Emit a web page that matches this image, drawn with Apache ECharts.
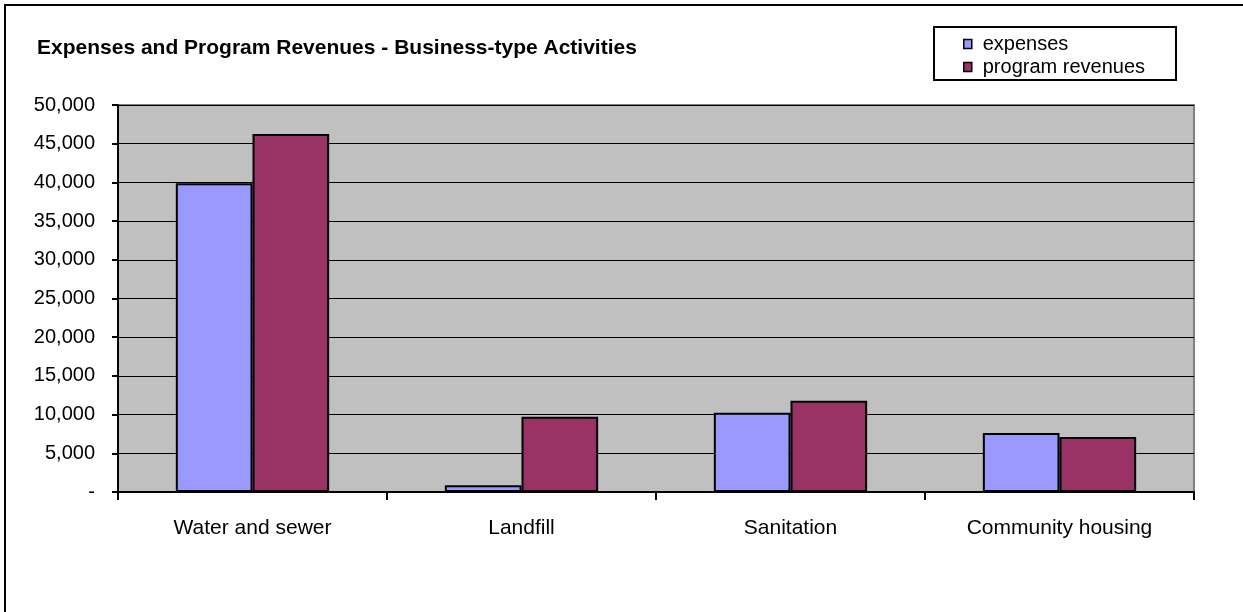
<!DOCTYPE html>
<html>
<head>
<meta charset="utf-8">
<script src="https://cdn.jsdelivr.net/npm/echarts@6/dist/echarts.min.js"></script>
<style>
html,body{margin:0;padding:0;background:#fff;}
#chart{width:1243px;height:612px;}
</style>
</head>
<body>
<div id="chart"></div>
<script>
var categories = ['Water and sewer', 'Landfill', 'Sanitation', 'Community housing'];
var expenses = [39900, 880, 10250, 7630];
var programRevenues = [46250, 9720, 11800, 7100];
var yTicks = [0, 5000, 10000, 15000, 20000, 25000, 30000, 35000, 40000, 45000, 50000];

var chart = echarts.init(document.getElementById('chart'), null, {renderer: 'canvas'});
var font = 'Arial, "Liberation Sans", sans-serif';
chart.setOption({
  animation: false,
  backgroundColor: '#ffffff',
  title: {
    text: 'Expenses and Program Revenues - Business-type Activities',
    left: 37, top: 38,
    padding: 0,
    textStyle: {fontFamily: font, fontWeight: 'bold', fontSize: 21, color: '#000'}
  },
  legend: {
    orient: 'vertical',
    left: 963, top: 34,
    padding: 0,
    itemWidth: 8, itemHeight: 9,
    itemGap: 3,
    icon: 'rect',
    itemStyle: {borderColor: '#000', borderWidth: 1.5},
    textStyle: {fontFamily: font, fontSize: 20, color: '#000', padding: [0,0,0,6]},
    data: ['expenses', 'program revenues']
  },
  graphic: [
    {type: 'rect', shape: {x: 5, y: 5, width: 1260, height: 640}, style: {fill: 'none', stroke: '#000', lineWidth: 2}, z: 0},
    {type: 'rect', shape: {x: 934, y: 27, width: 242, height: 53}, style: {fill: 'none', stroke: '#000', lineWidth: 2}, z: 0}
  ],
  grid: {
    left: 118, top: 105, width: 1076, height: 387,
    show: true, backgroundColor: '#C0C0C0', borderColor: '#808080', borderWidth: 2,
    containLabel: false
  },
  xAxis: {
    type: 'category',
    data: categories,
    boundaryGap: true,
    axisLine: {show: true, lineStyle: {color: '#000', width: 2}},
    axisTick: {show: true, alignWithLabel: false, length: 8, lineStyle: {color: '#000', width: 2}},
    axisLabel: {fontFamily: font, fontSize: 21, color: '#000', margin: 26},
    splitLine: {show: false}
  },
  yAxis: {
    type: 'value',
    min: 0, max: 50000, interval: 5000,
    axisLine: {show: true, lineStyle: {color: '#000', width: 2}},
    axisTick: {show: true, length: 6, lineStyle: {color: '#000', width: 2}},
    axisLabel: {
      fontFamily: font, fontSize: 20, color: '#000', margin: 23,
      formatter: function (v) { return v === 0 ? '-' : v.toLocaleString('en-US'); }
    },
    splitLine: {show: true, lineStyle: {color: '#000', width: 1}}
  },
  series: [
    {
      name: 'expenses', type: 'bar', data: expenses,
      barGap: '0%', barCategoryGap: '43%',
      itemStyle: {color: '#9999FF', borderColor: '#000', borderWidth: 2}
    },
    {
      name: 'program revenues', type: 'bar', data: programRevenues,
      barGap: '0%', barCategoryGap: '43%',
      itemStyle: {color: '#993366', borderColor: '#000', borderWidth: 2}
    }
  ]
});
</script>
</body>
</html>
